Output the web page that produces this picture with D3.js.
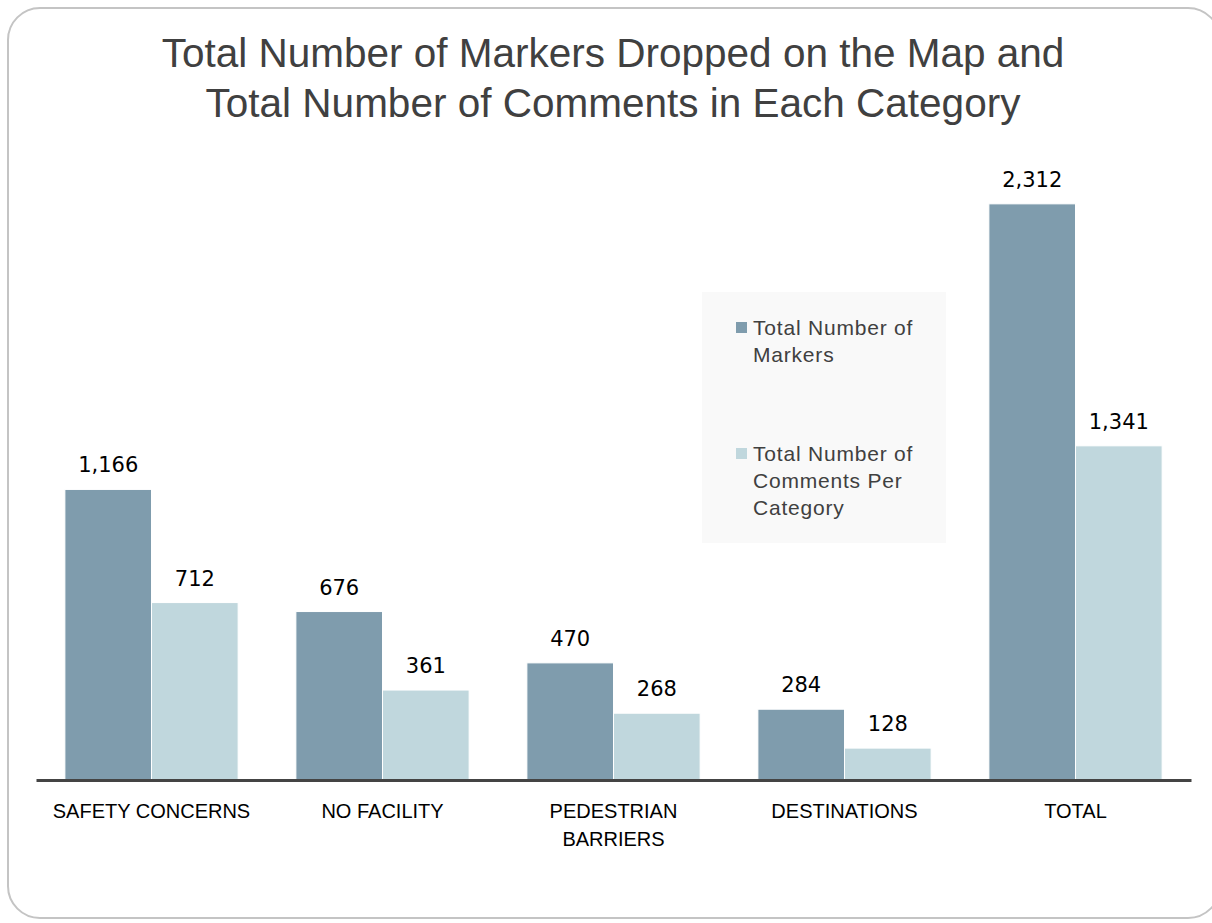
<!DOCTYPE html>
<html lang="en">
<head>
    <meta charset="UTF-8">
    <title>Markers and Comments</title>
    <script src="https://d3js.org/d3.v7.min.js"></script>
    <style>
        body { margin: 0; background: #fff; }
        .title { fill: #404040; font-family: "Liberation Sans", Arial, sans-serif; }
        .val { fill: #000; font-family: "DejaVu Sans", sans-serif; }
        .cat { fill: #000; font-family: "Liberation Sans", sans-serif; }
        .leg { fill: #404040; font-family: "Liberation Sans", sans-serif; }
    </style>
</head>
<body>
    <div id="chart"></div>
    <script>
        const categories = ["SAFETY CONCERNS", "NO FACILITY", "PEDESTRIAN BARRIERS", "DESTINATIONS", "TOTAL"];
        const markers = [1166, 676, 470, 284, 2312];
        const comments = [712, 361, 268, 128, 1341];
        const seriesNames = ["Total Number of Markers", "Total Number of Comments Per Category"];
        const colors = ["#7f9cad", "#c0d7dd"];

        var width = 1212, height = 923;

        var svg = d3.select("#chart")
            .append("svg")
            .attr("width", width)
            .attr("height", height);

        // frame
        svg.append("rect")
            .attr("x", 8).attr("y", 8)
            .attr("width", 1212).attr("height", 910)
            .attr("rx", 32).attr("ry", 32)
            .attr("fill", "#fff")
            .attr("stroke", "#c4c4c4")
            .attr("stroke-width", 2);

        var title = svg.append("text")
            .attr("class", "title")
            .attr("text-anchor", "middle")
            .attr("font-size", "40.5px");
        title.append("tspan").attr("x", 613).attr("y", 67).text("Total Number of Markers Dropped on the Map and");
        title.append("tspan").attr("x", 613).attr("y", 117).text("Total Number of Comments in Each Category");

        var x0 = d3.scaleBand()
            .domain(categories)
            .range([36, 1191])
            .paddingInner(0.25)
            .paddingOuter(0.125);

        var x1 = d3.scaleBand()
            .domain([0, 1])
            .range([0, x0.bandwidth()]);

        var y = d3.scaleLinear()
            .domain([0, 2500])
            .range([780, 157]);

        var rows = categories.map(function(c, i) {
            return {cat: c, values: [markers[i], comments[i]]};
        });

        var groups = svg.selectAll(".grp")
            .data(rows)
            .enter().append("g")
            .attr("class", "grp")
            .attr("transform", function(d) { return "translate(" + x0(d.cat) + ",0)"; });

        groups.selectAll("rect")
            .data(function(d) { return d.values.map(function(v, k) { return {k: k, v: v}; }); })
            .enter().append("rect")
            .attr("x", function(d) { return x1(d.k); })
            .attr("y", function(d) { return y(d.v); })
            .attr("width", x1.bandwidth())
            .attr("height", function(d) { return y(0) - y(d.v); })
            .attr("fill", function(d) { return colors[d.k]; })
            .attr("stroke", "#fff")
            .attr("stroke-width", 1);

        groups.selectAll(".val")
            .data(function(d) { return d.values.map(function(v, k) { return {k: k, v: v}; }); })
            .enter().append("text")
            .attr("class", "val")
            .attr("x", function(d) { return x1(d.k) + x1.bandwidth() / 2; })
            .attr("y", function(d) { return y(d.v) - 17; })
            .attr("text-anchor", "middle")
            .attr("font-size", "21px")
            .text(function(d) { return d3.format(",")(d.v); });

        // x axis
        var xAxis = svg.append("g")
            .attr("transform", "translate(0,780)")
            .call(d3.axisBottom(x0).tickSize(0).tickFormat(""));
        xAxis.select(".domain")
            .attr("stroke", "#444")
            .attr("stroke-width", 3);

        svg.selectAll(".cat")
            .data(categories)
            .enter().append("text")
            .attr("class", "cat")
            .attr("text-anchor", "middle")
            .attr("font-size", "20px")
            .attr("x", function(d) { return x0(d) + x0.bandwidth() / 2; })
            .attr("y", 818)
            .each(function(d) {
                var t = d3.select(this);
                var words = d.split(" ");
                t.text(d);
                if (this.getComputedTextLength() > x0.step() && words.length > 1) {
                    t.text(null);
                    var cx = x0(d) + x0.bandwidth() / 2;
                    words.forEach(function(w, i) {
                        t.append("tspan").attr("x", cx).attr("dy", i ? 28 : 0).text(w);
                    });
                }
            });

        // legend
        var leg = svg.append("g");
        leg.append("rect")
            .attr("x", 702).attr("y", 292)
            .attr("width", 244).attr("height", 251)
            .attr("fill", "#f9f9f9");
        var legLines = [["Total Number of", "Markers"], ["Total Number of", "Comments Per", "Category"]];
        var legTop = [335, 461];
        seriesNames.forEach(function(name, i) {
            leg.append("rect")
                .attr("x", 736).attr("y", legTop[i] - 13)
                .attr("width", 11).attr("height", 11)
                .attr("fill", colors[i]);
            var t = leg.append("text")
                .attr("class", "leg")
                .attr("font-size", "21px")
                .attr("letter-spacing", "0.8px");
            legLines[i].forEach(function(line, j) {
                t.append("tspan").attr("x", 753).attr("y", legTop[i] + j * 27).text(line);
            });
        });
    </script>
</body>
</html>
